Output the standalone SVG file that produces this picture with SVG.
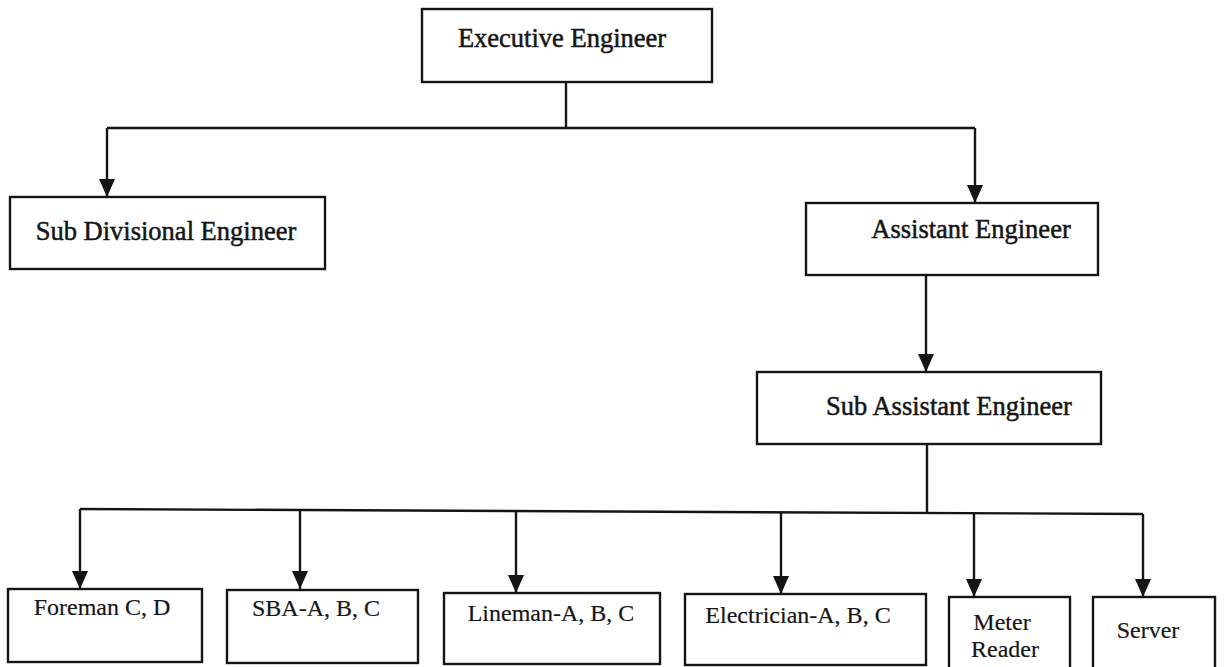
<svg xmlns="http://www.w3.org/2000/svg" width="1224" height="667" viewBox="0 0 1224 667">
<style>
.box{fill:#fff;stroke:#151515;stroke-width:2.4}
.lbl{font-family:"Liberation Serif","Times New Roman",serif;fill:#151515;text-anchor:middle}
.big{font-size:26.5px;stroke:#151515;stroke-width:0.5}
.sm{font-size:24px;stroke:#222;stroke-width:0.2}
.ln{fill:none;stroke:#151515;stroke-width:2.4}
</style>
<defs>
<marker id="ad" markerUnits="userSpaceOnUse" markerWidth="16" markerHeight="18" refX="8" refY="18" orient="0" viewBox="0 0 16 18">
<path d="M0,0 L16,0 L8,18 Z" fill="#151515"/>
</marker>
</defs>
<rect width="1224" height="667" fill="#fff"/>
<g id="connectors">
<path class="ln" d="M566,82 V128"/>
<path class="ln" d="M107,128 H975"/>
<path class="ln" d="M107,128 V197" marker-end="url(#ad)"/>
<path class="ln" d="M975,128 V203" marker-end="url(#ad)"/>
<path class="ln" d="M926,275 V372" marker-end="url(#ad)"/>
<path class="ln" d="M927,444 V512"/>
<path class="ln" d="M80,509 L1143,514"/>
<path class="ln" d="M80,509 V589" marker-end="url(#ad)"/>
<path class="ln" d="M300,510 V589" marker-end="url(#ad)"/>
<path class="ln" d="M516,511 V593" marker-end="url(#ad)"/>
<path class="ln" d="M781,512 V594" marker-end="url(#ad)"/>
<path class="ln" d="M974,513 V597" marker-end="url(#ad)"/>
<path class="ln" d="M1143,514 V597" marker-end="url(#ad)"/>
</g>
<g id="executive-engineer">
<rect class="box" x="422" y="9" width="290" height="73"/>
<text class="lbl big" x="562" y="47">Executive Engineer</text>
</g>
<g id="sub-divisional-engineer">
<rect class="box" x="10" y="197" width="315" height="72"/>
<text class="lbl big" x="166" y="240">Sub Divisional Engineer</text>
</g>
<g id="assistant-engineer">
<rect class="box" x="806" y="203" width="292" height="72"/>
<text class="lbl big" x="971" y="238">Assistant Engineer</text>
</g>
<g id="sub-assistant-engineer">
<rect class="box" x="757" y="372" width="344" height="72"/>
<text class="lbl big" x="949" y="415">Sub Assistant Engineer</text>
</g>
<g id="foreman">
<rect class="box" x="8" y="589" width="194" height="73"/>
<text class="lbl sm" x="102" y="615">Foreman C, D</text>
</g>
<g id="sba">
<rect class="box" x="227" y="590" width="191" height="73"/>
<text class="lbl sm" x="316" y="616">SBA-A, B, C</text>
</g>
<g id="lineman">
<rect class="box" x="444" y="593" width="216" height="71"/>
<text class="lbl sm" x="551" y="621">Lineman-A, B, C</text>
</g>
<g id="electrician">
<rect class="box" x="685" y="594" width="241" height="71"/>
<text class="lbl sm" x="798" y="623">Electrician-A, B, C</text>
</g>
<g id="meter-reader">
<rect class="box" x="949" y="597" width="121" height="72"/>
<text class="lbl sm" x="1002" y="630">Meter</text>
<text class="lbl sm" x="1005" y="657">Reader</text>
</g>
<g id="server">
<rect class="box" x="1093" y="597" width="122" height="72"/>
<text class="lbl sm" x="1148" y="638">Server</text>
</g>
</svg>
